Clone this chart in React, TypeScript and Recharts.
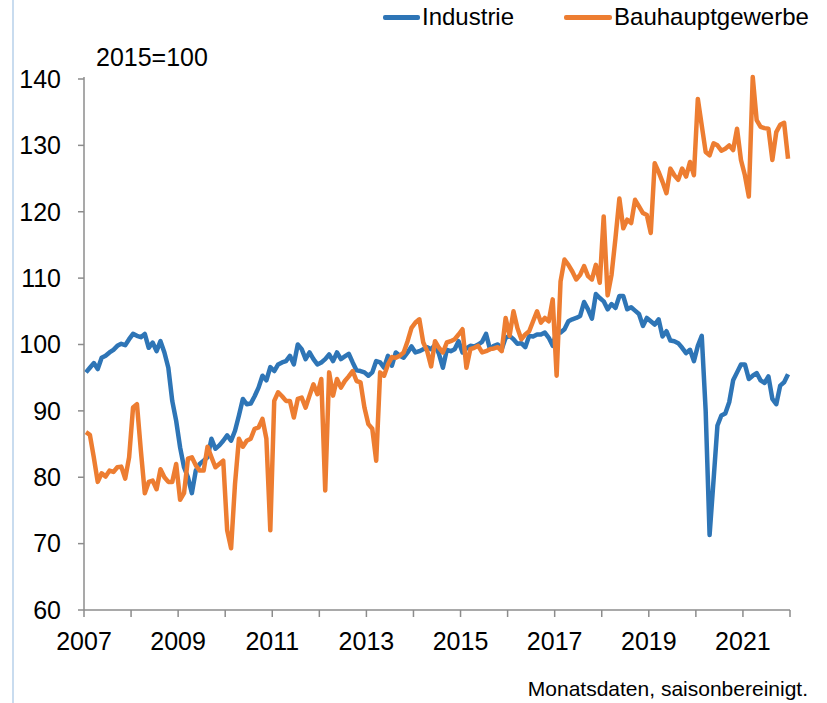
import React from 'react';
import { LineChart, Line, XAxis, YAxis } from 'recharts';

// Monatsdaten Jan 2007 - Dez 2021, 2015=100
const startYear = 2007;

const industrie = [
  // 2007
  95.8, 96.5, 97.2, 96.3, 98.0, 98.3, 98.8, 99.2, 99.8, 100.1, 99.9, 100.8,
  // 2008
  101.6, 101.3, 101.1, 101.6, 99.5, 100.3, 99.0, 100.5, 98.8, 96.5, 91.5, 88.5,
  // 2009
  84.5, 81.5, 80.0, 77.6, 81.0, 82.0, 82.5, 83.0, 85.8, 84.3, 84.8, 85.5,
  // 2010
  86.3, 85.5, 87.0, 89.3, 91.8, 91.0, 91.1, 92.2, 93.5, 95.3, 94.6, 96.6,
  // 2011
  96.0, 97.0, 97.3, 97.5, 98.3, 97.0, 100.0, 99.3, 97.8, 98.8, 97.8, 97.0,
  // 2012
  97.3, 97.8, 98.5, 97.5, 98.8, 97.8, 98.2, 98.6, 97.3, 96.1, 96.0, 95.8,
  // 2013
  95.3, 95.8, 97.5, 97.3, 96.5, 98.3, 96.8, 98.8, 98.3, 98.0, 98.8, 99.7,
  // 2014
  98.8, 99.0, 99.3, 99.6, 99.3, 99.9, 98.6, 96.5, 99.2, 99.0, 99.3, 100.5,
  // 2015
  98.8, 99.4, 99.8, 99.7, 100.0, 100.4, 101.6, 99.3, 99.8, 100.0, 99.3, 101.0,
  // 2016
  101.3, 100.8, 100.1, 100.2, 99.6, 101.3, 101.2, 101.5, 101.5, 101.8, 101.0, 99.8,
  // 2017
  102.0, 101.8, 102.3, 103.5, 103.8, 104.0, 104.3, 106.4, 105.3, 103.9, 107.6, 107.0,
  // 2018
  106.5, 105.3, 106.1, 105.5, 107.3, 107.3, 105.3, 105.6, 105.1, 104.6, 102.8, 104.0,
  // 2019
  103.5, 103.0, 103.8, 101.2, 102.0, 100.6, 100.5, 100.2, 99.5, 98.7, 99.2, 97.5,
  // 2020
  99.8, 101.3, 90.0, 71.3, 79.5, 87.8, 89.3, 89.6, 91.3, 94.6, 95.8, 97.0,
  // 2021
  97.0, 94.8, 95.3, 95.7, 94.6, 94.2, 95.2, 91.8, 91.0, 93.8, 94.3, 95.5,
];

const bauhauptgewerbe = [
  // 2007
  86.8, 86.4, 83.0, 79.3, 80.6, 80.1, 81.0, 80.8, 81.5, 81.6, 79.8, 83.0,
  // 2008
  90.5, 91.0, 84.0, 77.6, 79.3, 79.5, 78.2, 81.2, 80.0, 79.3, 79.3, 82.0,
  // 2009
  76.6, 77.6, 82.8, 83.0, 81.8, 81.0, 81.0, 84.6, 83.0, 81.5, 82.0, 82.5,
  // 2010
  72.0, 69.3, 79.0, 85.8, 84.6, 85.5, 85.8, 87.3, 87.5, 88.8, 85.8, 72.0,
  // 2011
  91.5, 92.8, 92.2, 91.5, 91.5, 89.0, 91.8, 92.0, 90.5, 92.3, 94.0, 92.5,
  // 2012
  94.8, 78.0, 95.8, 92.3, 94.8, 93.5, 94.5, 95.2, 96.0, 94.5, 94.3, 90.5,
  // 2013
  88.0, 87.3, 82.5, 95.8, 95.3, 97.0, 98.1, 98.0, 98.3, 98.8, 100.5, 102.5,
  // 2014
  103.3, 103.8, 100.3, 99.0, 96.7, 100.5, 99.5, 98.8, 100.3, 100.5, 100.8, 101.5,
  // 2015
  102.3, 96.5, 99.3, 99.5, 99.8, 98.8, 99.0, 99.3, 99.4, 99.6, 99.0, 104.0,
  // 2016
  101.3, 105.0, 102.5, 100.8, 101.5, 102.0, 103.5, 105.0, 103.3, 104.0, 103.5, 106.8,
  // 2017
  95.3, 109.5, 112.8, 112.0, 111.0, 109.8, 110.5, 111.8, 110.3, 109.8, 112.0, 109.3,
  // 2018
  119.3, 107.4, 110.5, 116.0, 122.0, 117.5, 118.8, 118.3, 121.8, 120.8, 119.8, 119.5,
  // 2019
  116.8, 127.3, 126.0, 124.5, 122.8, 126.5, 125.5, 124.8, 126.5, 125.3, 127.5, 125.5,
  // 2020
  137.0, 133.0, 129.0, 128.5, 130.3, 130.0, 129.2, 129.5, 130.0, 129.3, 132.5, 127.8,
  // 2021
  125.5, 122.3, 140.3, 133.8, 132.8, 132.6, 132.5, 127.8, 132.0, 133.1, 133.4, 128.0,
];

const yTicks = [60, 70, 80, 90, 100, 110, 120, 130, 140];
const xTicks = [0, 12, 24, 36, 48, 60, 72, 84, 96, 108, 120, 132, 144, 156, 168, 180];

const BLUE = '#2E75B6';
const ORANGE = '#ED7D31';
const AXIS = '#8C8C8C';
const FONT = '"Liberation Sans", Arial, sans-serif';

// points sit in the middle of each month slot
const data = industrie.map((v, i) => ({
  x: i + 0.5,
  industrie: v,
  bau: bauhauptgewerbe[i],
}));

const yearLabel = (v: number) => (v % 24 === 0 ? String(startYear + v / 12) : '');

export default function App() {
  return (
    <div
      style={{
        position: 'absolute',
        left: 0,
        top: 0,
        width: 827,
        height: 703,
        background: '#fff',
        fontFamily: FONT,
        overflow: 'hidden',
      }}
    >
      <div
        style={{ position: 'absolute', left: 12, top: 0, width: 2, height: 703, background: '#C9DCEF' }}
      />
      <LineChart
        width={827}
        height={703}
        data={data}
        margin={{ top: 77, right: 37, bottom: 0, left: 0 }}
      >
        <XAxis
          type="number"
          dataKey="x"
          domain={[0, 180]}
          ticks={xTicks}
          interval={0}
          tickFormatter={yearLabel}
          height={93}
          tickSize={7}
          tickMargin={15}
          stroke={AXIS}
          strokeWidth={1.5}
          tick={{ fill: '#000', fontSize: 25, fontFamily: FONT }}
        />
        <YAxis
          type="number"
          domain={[60, 140]}
          ticks={yTicks}
          interval={0}
          width={84}
          tickSize={6}
          tickMargin={17}
          stroke={AXIS}
          strokeWidth={1.5}
          tick={{ fill: '#000', fontSize: 25, fontFamily: FONT }}
        />
        <Line
          type="linear"
          dataKey="industrie"
          stroke={BLUE}
          strokeWidth={4.5}
          dot={false}
          strokeLinejoin="round"
          isAnimationActive={false}
        />
        <Line
          type="linear"
          dataKey="bau"
          stroke={ORANGE}
          strokeWidth={4.5}
          dot={false}
          strokeLinejoin="round"
          isAnimationActive={false}
        />
      </LineChart>

      {/* legend */}
      <div style={{ position: 'absolute', left: 383, top: 3, display: 'flex', alignItems: 'center', fontSize: 24, color: '#000', whiteSpace: 'nowrap' }}>
        <span style={{ display: 'inline-block', width: 37, height: 5, background: BLUE, borderRadius: 2, marginRight: 2 }} />
        <span>Industrie</span>
        <span style={{ display: 'inline-block', width: 48, height: 5, background: ORANGE, borderRadius: 2, marginLeft: 50, marginRight: 2 }} />
        <span>Bauhauptgewerbe</span>
      </div>

      <div style={{ position: 'absolute', left: 96, top: 43, fontSize: 25, color: '#000' }}>2015=100</div>
      <div style={{ position: 'absolute', right: 19, top: 677, fontSize: 21, color: '#000' }}>
        Monatsdaten, saisonbereinigt.
      </div>
    </div>
  );
}
